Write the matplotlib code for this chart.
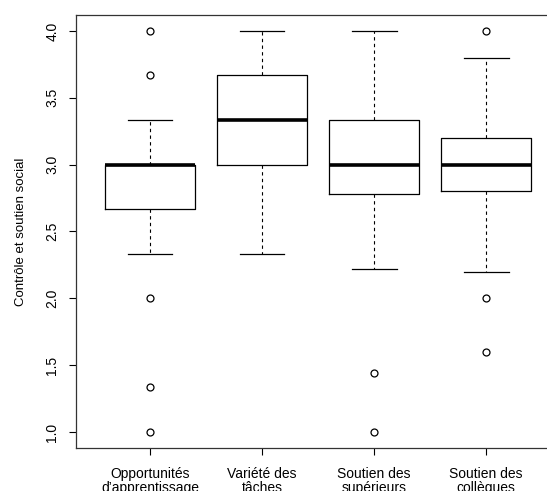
import matplotlib
matplotlib.use("Agg")
import matplotlib.pyplot as plt

plt.rcParams['font.family'] = ['Liberation Sans', 'DejaVu Sans']

labels = ["Opportunités\nd’apprentissage", "Variété des\ntâches",
          "Soutien des\nsupérieurs", "Soutien des\ncollègues"]
med = [3.0, 3.333, 3.0, 3.0]
q1 = [2.667, 3.0, 2.778, 2.8]
q3 = [3.0, 3.667, 3.333, 3.2]
wlo = [2.333, 2.333, 2.222, 2.2]
whi = [3.333, 4.0, 4.0, 3.8]
outliers = [
    [4.0, 3.667, 2.0, 1.333, 1.0],
    [],
    [1.444, 1.0],
    [4.0, 2.0, 1.6],
]

stats = []
for i in range(len(labels)):
    stats.append(dict(med=med[i], q1=q1[i], q3=q3[i], whislo=wlo[i],
                      whishi=whi[i], fliers=outliers[i], label=labels[i]))

fig = plt.figure(figsize=(5.47, 4.91), dpi=100)
# right part of the box runs past the edge of the image
ax = fig.add_axes([0.139, 0.0876, 0.885, 0.882])

ax.bxp(stats, positions=[1, 2, 3, 4], widths=0.8, patch_artist=False,
       boxprops=dict(color='black', linewidth=0.9),
       medianprops=dict(color='black', linewidth=2.6, solid_capstyle='butt'),
       whiskerprops=dict(color='black', linewidth=0.8, linestyle=(0, (3, 3))),
       capprops=dict(color='black', linewidth=0.9),
       capwidths=0.4,
       flierprops=dict(marker='o', markerfacecolor='none', markeredgecolor='black',
                       markersize=5, markeredgewidth=0.9))

ax.set_xlim(0.34, 4.66)
ax.set_ylim(0.88, 4.12)
ax.set_yticks([1.0, 1.5, 2.0, 2.5, 3.0, 3.5, 4.0])
ax.set_yticklabels(["1.0", "1.5", "2.0", "2.5", "3.0", "3.5", "4.0"],
                   rotation=90, va='center', fontsize=10)
ax.set_xticks([1, 2, 3, 4])
ax.set_xticklabels(labels, fontsize=10, linespacing=1.0)
ax.tick_params(axis='both', length=5, width=0.8, color='black')
ax.tick_params(axis='y', pad=7)
ax.tick_params(axis='x', pad=9)
ax.set_ylabel("Contrôle et soutien social", fontsize=9.5, labelpad=13)

for s in ax.spines.values():
    s.set_linewidth(0.9)
    s.set_color('#333333')

fig.savefig("out.png", dpi=100)
